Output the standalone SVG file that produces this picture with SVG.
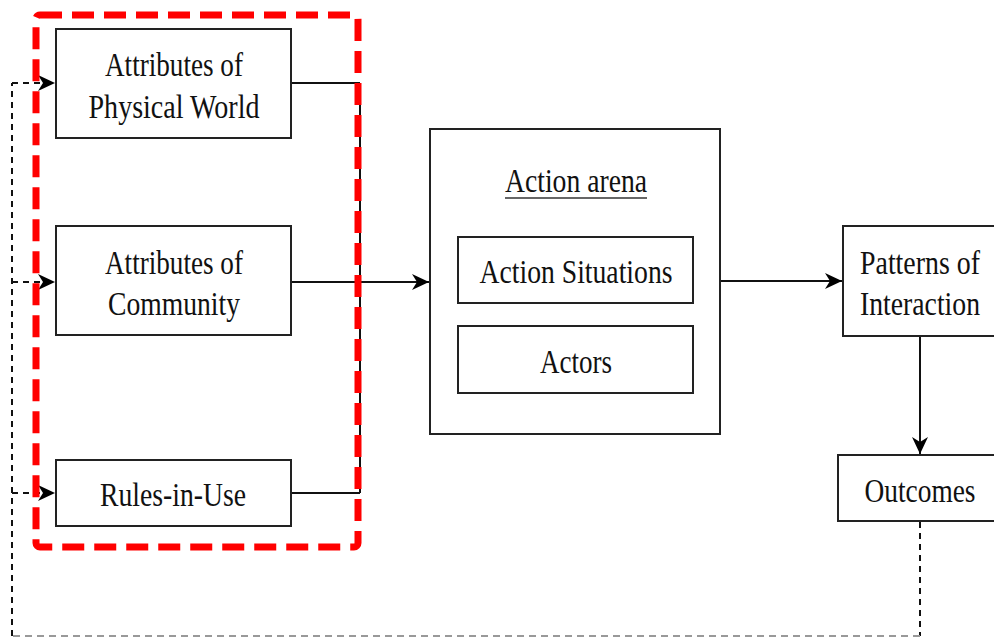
<svg xmlns="http://www.w3.org/2000/svg" width="994" height="637" viewBox="0 0 994 637">
<defs>
<marker id="arr" markerWidth="18" markerHeight="16" refX="17" refY="8" orient="auto" markerUnits="userSpaceOnUse">
<path d="M0,0 L17,8 L0,16 L5,8 Z" fill="#000"/>
</marker>
</defs>
<style>
.box{fill:#fff;stroke:#222;stroke-width:2}
.t{font-family:"Liberation Serif","Times New Roman",serif;font-size:33px;fill:#111;text-anchor:middle}
.ln{stroke:#111;stroke-width:2;fill:none}
.dl{stroke:#111;stroke-width:2;fill:none;stroke-dasharray:6 5}
.dg{stroke:#999;stroke-width:2;fill:none;stroke-dasharray:7 5}
</style>
<rect width="994" height="637" fill="#fff"/>
<g id="connectors">
<path class="ln" d="M291,83 H360 M291,282 H360 M291,493 H360 M360,83 V493"/>
<path class="ln" d="M360,282 H429" marker-end="url(#arr)"/>
<path class="ln" d="M720,281 H842" marker-end="url(#arr)"/>
<path class="ln" d="M920,336 V454" marker-end="url(#arr)"/>
<path class="dl" d="M920,522 V636"/>
<path class="dg" d="M920,636 H12"/>
<path class="dl" d="M12,636 V83"/>
<path class="dl" d="M12,83 H55" marker-end="url(#arr)"/>
<path class="dl" d="M12,282 H55" marker-end="url(#arr)"/>
<path class="dl" d="M12,493 H55" marker-end="url(#arr)"/>
</g>
<g id="physical">
<rect class="box" x="56" y="29" width="235" height="109"/>
<text class="t" x="174" y="76" textLength="138" lengthAdjust="spacingAndGlyphs">Attributes of</text>
<text class="t" x="174" y="118" textLength="171" lengthAdjust="spacingAndGlyphs">Physical World</text>
</g>
<g id="community">
<rect class="box" x="56" y="226" width="235" height="109"/>
<text class="t" x="174" y="274" textLength="138" lengthAdjust="spacingAndGlyphs">Attributes of</text>
<text class="t" x="174" y="315" textLength="132" lengthAdjust="spacingAndGlyphs">Community</text>
</g>
<g id="rules">
<rect class="box" x="56" y="460" width="235" height="66"/>
<text class="t" x="173" y="506" textLength="146" lengthAdjust="spacingAndGlyphs">Rules-in-Use</text>
</g>
<g id="arena">
<rect class="box" x="430" y="129" width="290" height="305"/>
<text class="t" x="576" y="192" textLength="142" lengthAdjust="spacingAndGlyphs">Action arena</text>
<line x1="505" y1="198" x2="647" y2="198" stroke="#333" stroke-width="1.5"/>
</g>
<g id="situations">
<rect class="box" x="458" y="237" width="235" height="66"/>
<text class="t" x="576" y="283" textLength="193" lengthAdjust="spacingAndGlyphs">Action Situations</text>
</g>
<g id="actors">
<rect class="box" x="458" y="326" width="235" height="67"/>
<text class="t" x="576" y="373" textLength="72" lengthAdjust="spacingAndGlyphs">Actors</text>
</g>
<g id="patterns">
<rect class="box" x="843" y="226" width="152" height="110"/>
<text class="t" x="920" y="274" textLength="120" lengthAdjust="spacingAndGlyphs">Patterns of</text>
<text class="t" x="920" y="315" textLength="120" lengthAdjust="spacingAndGlyphs">Interaction</text>
</g>
<g id="outcomes">
<rect class="box" x="838" y="455" width="157" height="66"/>
<text class="t" x="920" y="502" textLength="111" lengthAdjust="spacingAndGlyphs">Outcomes</text>
</g>
<g id="highlight">
<rect x="36" y="15" width="322" height="532" rx="4" fill="none" stroke="#ff0000" stroke-width="7" stroke-dasharray="22 10"/>
</g>
</svg>
